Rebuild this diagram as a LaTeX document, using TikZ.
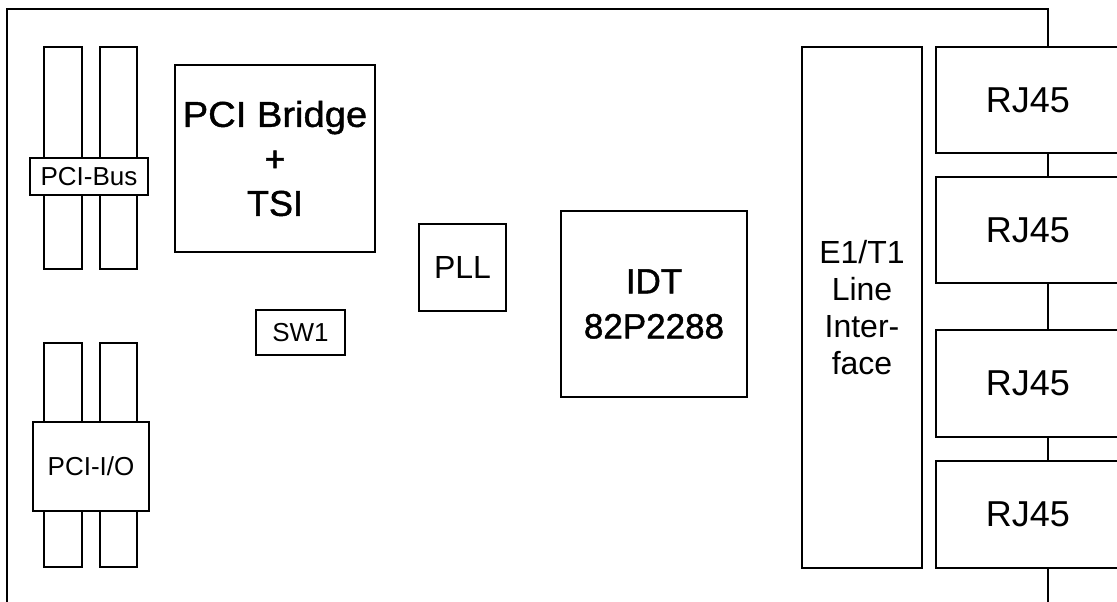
\documentclass[tikz,border=0pt]{standalone}
\usepackage{fontspec}
\setmainfont{Liberation Sans}
\newfontfamily\heavyfont[FakeBold=1.2]{Liberation Sans}
\tikzset{
  box/.style={draw, fill=white, line width=1.7pt, inner sep=0pt, align=center},
  slot/.style={box, minimum width=38pt, minimum height=222pt},
  rj/.style={box, minimum width=184pt, minimum height=106pt, font=\fontsize{36}{43}\selectfont},
  small/.style={font=\fontsize{26}{31}\selectfont},
}
\begin{document}
\begin{tikzpicture}[x=1pt,y=-1pt]
\useasboundingbox (0,0) rectangle (1117,602);
\clip (0,0) rectangle (1117,602);
% board outline
\coordinate (bl) at (7,605);
\coordinate (tl) at (7,9);
\coordinate (tr) at (1048,9);
\coordinate (br) at (1048,605);
\draw[line width=1.7pt] (bl) -- (tl) -- (tr) -- (br);
% PCI bus slots
\node[slot] (sa1) at (63,158) {};
\node[slot, minimum width=37pt] (sa2) at (118.5,158) {};
\node[box, small, minimum width=118pt, minimum height=37pt] (pcibus) at (89,176.5) {PCI-Bus};
\node[slot, minimum height=224pt] (sb1) at (63,455) {};
\node[slot, minimum width=37pt, minimum height=224pt] (sb2) at (118.5,455) {};
\node[box, small, minimum width=116pt, minimum height=89pt] (pciio) at (91,466.5) {PCI-I/O};
% chips
\node[box, minimum width=200pt, minimum height=187pt, font=\heavyfont\fontsize{36}{44.5}\selectfont] (bridge) at (275,158.5) {\scalebox{1.06}[1]{PCI Bridge}\\+\\TSI};
\node[box, small, minimum width=89pt, minimum height=45pt] (sw1) at (300.5,332.5) {SW1};
\node[box, minimum width=87pt, minimum height=87pt, font=\fontsize{32}{38}\selectfont] (pll) at (462.5,267.5) {PLL};
\node[box, minimum width=186pt, minimum height=186pt, font=\heavyfont\fontsize{35}{45}\selectfont] (idt) at (654,304) {IDT\\82P2288};
\node[box, minimum width=120pt, minimum height=521pt, font=\fontsize{32}{37}\selectfont] (lif) at (862,307.5) {E1/T1\\Line\\Inter-\\face};
% RJ45 connectors
\node[rj] (rj1) at (1028,100) {RJ45};
\node[rj] (rj2) at (1028,230) {RJ45};
\node[rj, minimum height=107pt] (rj3) at (1028,383.5) {RJ45};
\node[rj, minimum height=107pt] (rj4) at (1028,514.5) {RJ45};
\end{tikzpicture}
\end{document}
